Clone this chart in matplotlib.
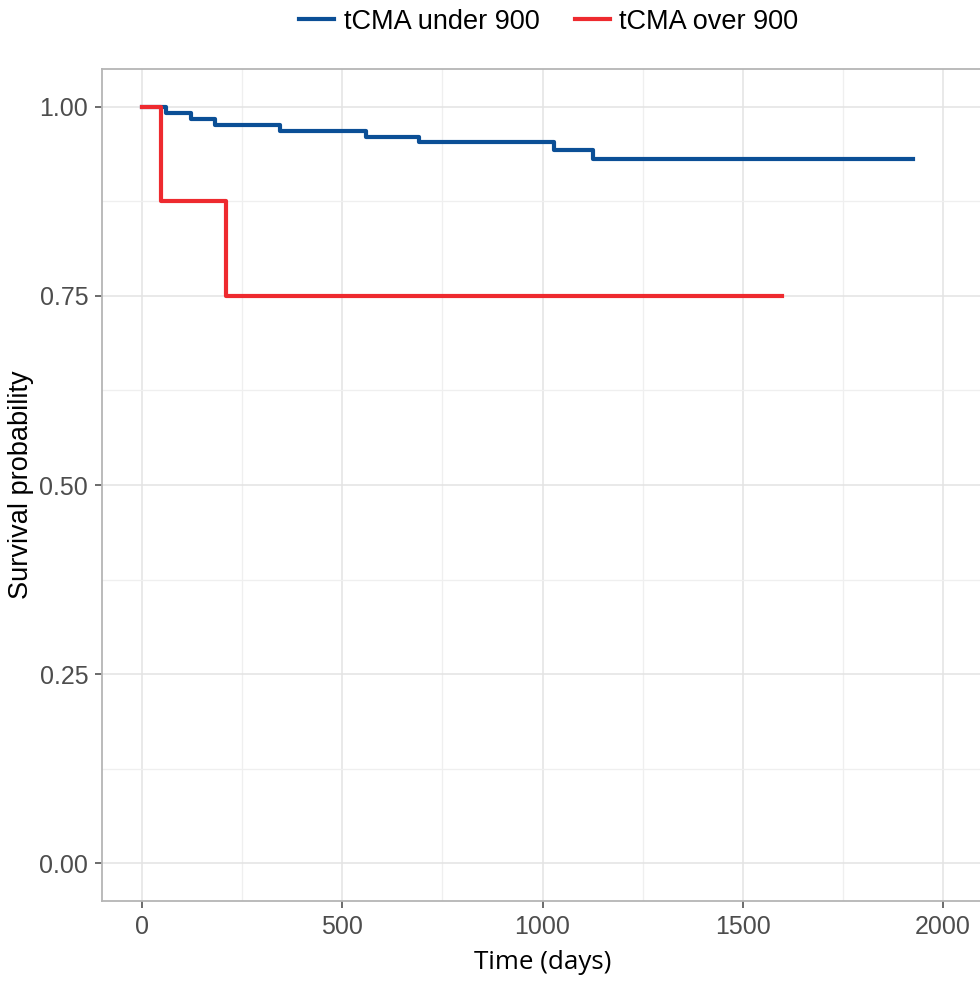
import matplotlib
matplotlib.use("Agg")
import matplotlib.pyplot as plt
import numpy as np

# Kaplan-Meier steps (time in days, survival)
under_time = [0, 59, 121, 182, 345, 558, 691, 1028, 1125, 1924]
under_surv = [1.0, 0.992, 0.984, 0.976, 0.968, 0.960, 0.953, 0.943, 0.931, 0.931]
over_time = [0, 47, 210, 1597]
over_surv = [1.0, 0.875, 0.75, 0.75]

labels = ["tCMA under 900", "tCMA over 900"]
colors = ["#0B4F96", "#EE2A2F"]

fig = plt.figure(figsize=(9.8, 9.82), dpi=100)
ax = fig.add_axes([0.1041, 0.0825, 0.899, 0.8472])

ax.step(under_time, under_surv, where="post", color=colors[0], lw=3.0, label=labels[0])
ax.step(over_time, over_surv, where="post", color=colors[1], lw=3.0, label=labels[1])

ax.set_xlim(-100, 2100)
ax.set_ylim(-0.05, 1.05)
ax.set_xticks([0, 500, 1000, 1500, 2000])
ax.set_xticks([250, 750, 1250, 1750], minor=True)
ax.set_yticks([0, 0.25, 0.5, 0.75, 1.0])
ax.set_yticks([0.125, 0.375, 0.625, 0.875], minor=True)
ax.set_yticklabels(["0.00", "0.25", "0.50", "0.75", "1.00"])

ax.grid(which="major", color="#E3E3E3", lw=1.1)
ax.grid(which="minor", color="#EFEFEF", lw=0.9)
ax.set_axisbelow(True)
for s in ax.spines.values():
    s.set_color("#B5B5B5")
    s.set_linewidth(1.3)
ax.tick_params(which="major", length=5, width=1.1, color="#444444",
               labelsize=18, labelcolor="#4D4D4D", pad=5)
ax.tick_params(which="minor", length=0)
for t in ax.get_xticklabels() + ax.get_yticklabels():
    t.set_family("Liberation Sans")

ax.set_xlabel("Time (days)", fontsize=18.7, family="Open Sans", labelpad=8)
ax.set_ylabel("Survival probability", fontsize=19.5, family="Liberation Sans", labelpad=4)

fig.legend(loc="center", bbox_to_anchor=(0.560, 0.978), ncol=2, frameon=False,
           prop={"family": "Liberation Sans", "size": 19.5}, handlelength=1.3,
           columnspacing=1.3, handletextpad=0.35)

plt.savefig("out.png", dpi=100)
